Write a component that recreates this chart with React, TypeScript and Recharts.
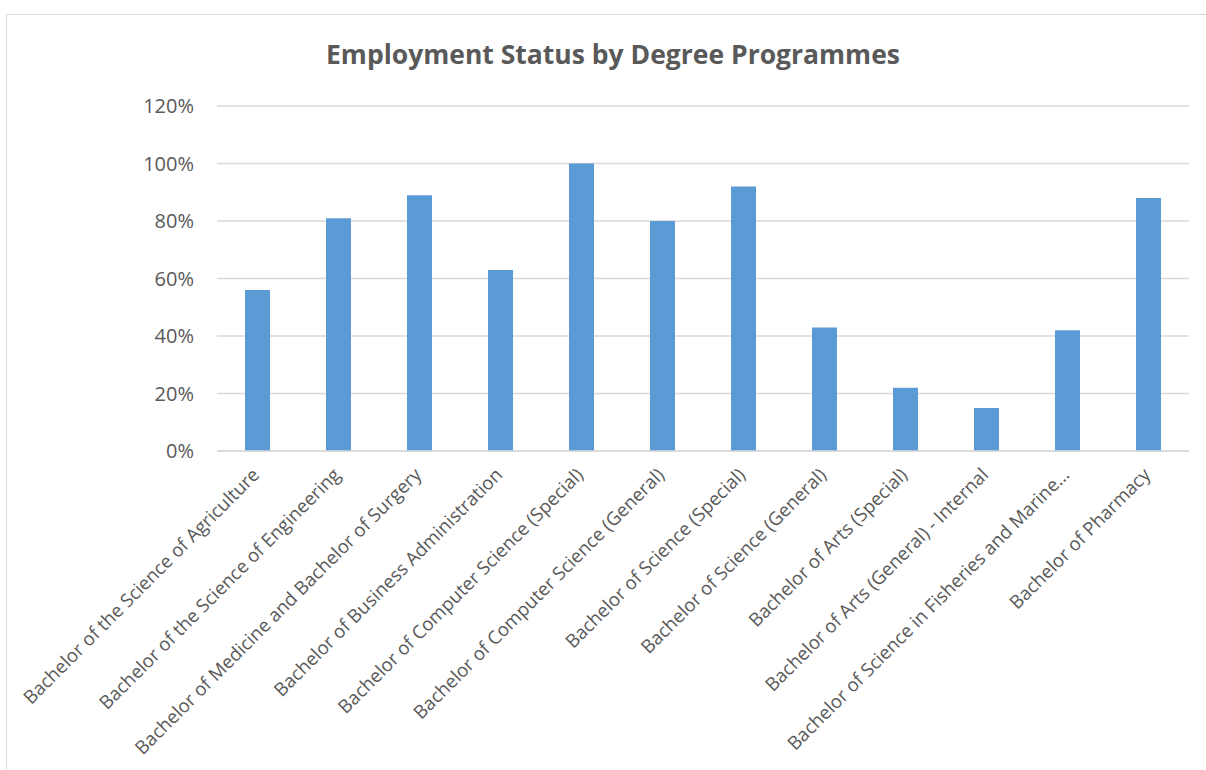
import React from 'react';
import { BarChart, Bar, XAxis, YAxis, CartesianGrid } from 'recharts';

const programmes = [
  'Bachelor of the Science of Agriculture',
  'Bachelor of the Science of Engineering',
  'Bachelor of Medicine and Bachelor of Surgery',
  'Bachelor of Business Administration',
  'Bachelor of Computer Science (Special)',
  'Bachelor of Computer Science (General)',
  'Bachelor of Science (Special)',
  'Bachelor of Science (General)',
  'Bachelor of Arts (Special)',
  'Bachelor of Arts (General) - Internal',
  'Bachelor of Science in Fisheries and Marine…',
  'Bachelor of Pharmacy',
];

const employed = [56, 81, 89, 63, 100, 80, 92, 43, 22, 15, 42, 88];

const yTicks = [0, 20, 40, 60, 80, 100, 120];

const data = programmes.map((name, i) => ({ name, value: employed[i] }));

const FONT = '"Open Sans", sans-serif';
const TEXT = '#595959';
const GRID = '#D9D9D9';

function AngledTick(props: any) {
  const { x, y, payload } = props;
  return (
    <text
      x={x + 3}
      y={y + 17}
      transform={`rotate(-45, ${x + 3}, ${y + 17})`}
      textAnchor="end"
      fill={TEXT}
      fontSize={18.6}
      fontFamily={FONT}
    >
      {payload.value}
    </text>
  );
}

export default function App() {
  return (
    <div
      style={{
        position: 'absolute',
        left: 6,
        top: 14,
        width: 1212,
        height: 772,
        border: `1px solid ${GRID}`,
        background: '#fff',
        boxSizing: 'border-box',
      }}
    >
      <div
        style={{
          position: 'absolute',
          left: 0,
          top: 24,
          width: 1212,
          textAlign: 'center',
          fontFamily: FONT,
          fontWeight: 700,
          fontSize: 26.5,
          lineHeight: '30px',
          color: TEXT,
        }}
      >
        Employment Status by Degree Programmes
      </div>
      <BarChart
        width={1210}
        height={770}
        data={data}
        margin={{ top: 91, right: 28, bottom: 0, left: 130 }}
      >
        <CartesianGrid vertical={false} stroke={GRID} strokeWidth={1.5} />
        <XAxis
          dataKey="name"
          interval={0}
          height={334}
          axisLine={{ stroke: GRID, strokeWidth: 1.5 }}
          tickLine={false}
          tick={<AngledTick />}
        />
        <YAxis
          width={80}
          domain={[0, 120]}
          ticks={yTicks}
          tickFormatter={(v: number) => `${v}%`}
          axisLine={false}
          tickLine={false}
          tickMargin={17}
          tick={{ fill: TEXT, fontSize: 20, fontFamily: FONT }}
        />
        <Bar dataKey="value" fill="#5B9BD5" barSize={25} isAnimationActive={false} />
      </BarChart>
    </div>
  );
}
